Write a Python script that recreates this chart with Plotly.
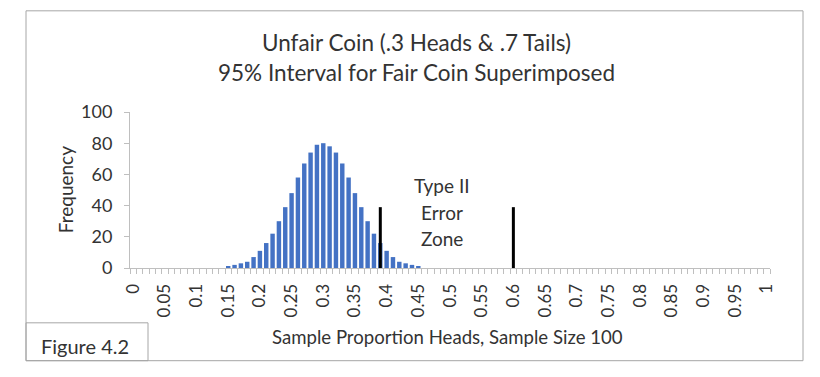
import plotly.graph_objects as go

# ---- data ----
proportions = [round(i / 100, 2) for i in range(101)]
freq_by_prop = {
    0.15: 1, 0.16: 2, 0.17: 3, 0.18: 4, 0.19: 7, 0.20: 11, 0.21: 16, 0.22: 22,
    0.23: 30, 0.24: 39, 0.25: 48, 0.26: 58, 0.27: 67, 0.28: 74, 0.29: 79,
    0.30: 80, 0.31: 78, 0.32: 74, 0.33: 67, 0.34: 58, 0.35: 48, 0.36: 39,
    0.37: 30, 0.38: 22, 0.39: 16, 0.40: 11, 0.41: 7, 0.42: 4, 0.43: 3,
    0.44: 2, 0.45: 1,
}
frequencies = [freq_by_prop.get(p, 0) for p in proportions]
tick_labels = ["0", "0.05", "0.1", "0.15", "0.2", "0.25", "0.3", "0.35", "0.4", "0.45",
               "0.5", "0.55", "0.6", "0.65", "0.7", "0.75", "0.8", "0.85", "0.9", "0.95", "1"]
fair_interval = [0.39, 0.60]   # 95% interval for a fair coin (as drawn)
interval_line_height = 39
interval_line_bottom = -5

# ---- figure geometry (pixels) ----
W, H = 820, 377
L, R, T, B = 130, 770, 111.5, 268

def px(x):
    return (x - L) / (R - L)

def py(y):
    return (B - y) / (B - T)

FONT = "Lato"
TXT = "#333333"
GRID = "#BFBFBF"

idx = list(range(len(proportions)))
fig = go.Figure()
fig.add_trace(go.Bar(x=idx, y=frequencies, marker=dict(color="#4472C4", line=dict(width=0)),
                     hoverinfo="x+y", showlegend=False))

for p in fair_interval:
    xi = p * 100
    fig.add_trace(go.Scatter(x=[xi, xi], y=[interval_line_bottom, interval_line_height],
                             mode="lines", line=dict(color="black", width=3),
                             showlegend=False, hoverinfo="skip", cliponaxis=False))

shapes = [
    dict(type="rect", xref="paper", yref="paper", x0=px(26), x1=px(803), y0=py(361), y1=py(10),
         line=dict(color="#A6A6A6", width=1), layer="below"),
    dict(type="rect", xref="paper", yref="paper", x0=px(26), x1=px(148), y0=py(361), y1=py(323),
         line=dict(color="#A6A6A6", width=1), layer="below"),
]

def ann(text, x, y, size, angle=0):
    return dict(text=text, xref="paper", yref="paper", x=px(x), y=py(y),
                xanchor="center", yanchor="middle", textangle=angle,
                showarrow=False, font=dict(size=size, color=TXT, family=FONT))

annotations = [
    ann("Unfair Coin (.3 Heads & .7 Tails)", 416, 42, 22.5),
    ann("95% Interval for Fair Coin Superimposed", 416, 72, 22.5),
    ann("Frequency", 65, 190, 19, -90),
    ann("Sample Proportion Heads, Sample Size 100", 447, 337, 18.6),
    ann("Figure 4.2", 85, 346, 20),
    ann("Type II", 442, 185, 19),
    ann("Error", 442, 212, 19),
    ann("Zone", 442, 238, 19),
]

fig.update_layout(
    width=W, height=H,
    margin=dict(l=L, r=W - R, t=T, b=H - B, pad=0),
    paper_bgcolor="white", plot_bgcolor="white",
    bargap=0.3,
    shapes=shapes,
    annotations=annotations,
    font=dict(family=FONT, color=TXT),
    xaxis=dict(
        range=[-0.5, len(proportions) - 0.5],
        tickmode="array",
        tickvals=list(range(0, 101, 5)),
        ticktext=tick_labels,
        tickangle=-90,
        ticks="",
        tickfont=dict(size=17, color=TXT, family=FONT),
        showline=True, linecolor=GRID, linewidth=1,
        showgrid=False, zeroline=False,
        ticklabelstandoff=8,
        minor=dict(tickmode="array", tickvals=[i - 0.5 for i in range(len(proportions) + 1)],
                   ticks="outside", ticklen=5, tickcolor=GRID, tickwidth=1, showgrid=False),
        fixedrange=True,
    ),
    yaxis=dict(
        range=[0, 100],
        tickvals=[0, 20, 40, 60, 80, 100],
        ticks="outside", ticklen=5, tickcolor=GRID,
        tickfont=dict(size=18, color=TXT, family=FONT),
        showline=True, linecolor=GRID, linewidth=1,
        showgrid=False, zeroline=False,
        ticklabelstandoff=8,
        fixedrange=True,
    ),
)

fig.write_html("out.html", config={"displayModeBar": False},
               post_script="document.body.style.margin='0';document.body.style.overflow='hidden';")
